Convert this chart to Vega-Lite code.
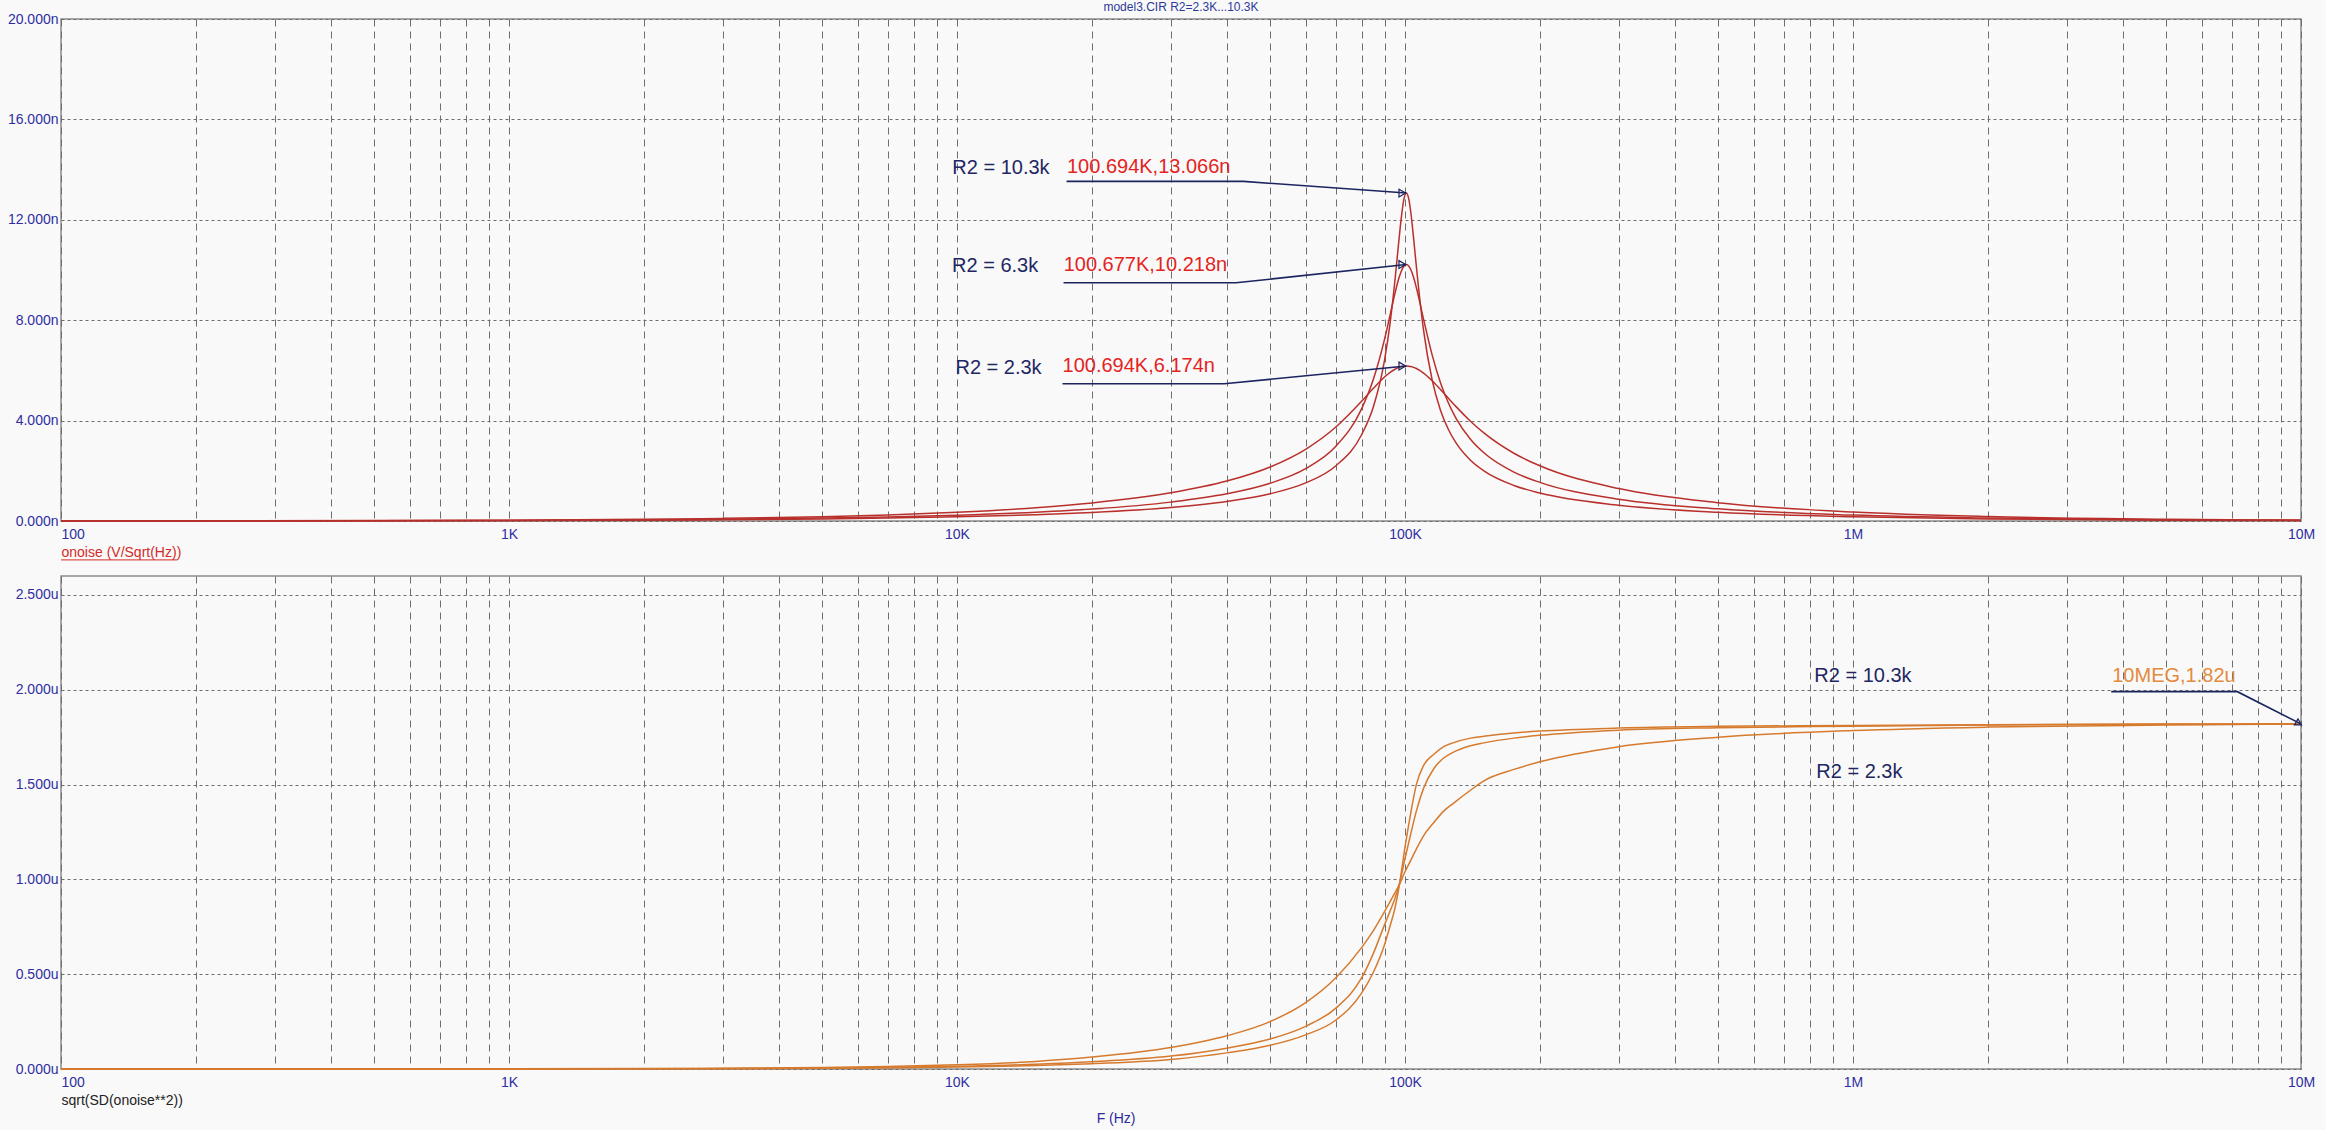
{
  "$schema": "https://vega.github.io/schema/vega-lite/v6.json",
  "background": "#f9f9f9",
  "padding": {"left": 6, "top": 0, "right": 10, "bottom": 4},
  "bounds": "flush",
  "spacing": 55,
  "title": {
    "text": "F (Hz)", "orient": "bottom", "anchor": "start", "dx": 1090, "offset": 4,
    "fontSize": 14, "fontWeight": "normal", "font": "Liberation Sans", "color": "#2b2b9e"
  },
  "config": {
    "view": {"stroke": "#8c8c8c", "strokeWidth": 1.5},
    "font": "Liberation Sans",
    "axis": {
      "domain": false, "ticks": false,
      "labelFont": "Liberation Sans", "labelFontSize": 14, "labelColor": "#2e2ea2",
      "labelOverlap": false, "labelFlush": false, "labelBound": false,
      "gridColor": "#6e6e6e", "gridWidth": 1, "gridOpacity": 1,
      "titleFont": "Liberation Sans", "titleFontWeight": "normal", "titleFontSize": 14
    },
    "axisX": {"gridDash": [7, 5], "labelPadding": 6},
    "axisY": {"gridDash": [3, 3], "labelPadding": 3}
  },
  "datasets": {
    "noise": [
      {"f": 100, "lo": 0.0035, "mid": 0.0023, "hi": 0.0016},
      {"f": 200, "lo": 0.0069, "mid": 0.0046, "hi": 0.0033},
      {"f": 500, "lo": 0.0173, "mid": 0.0115, "hi": 0.0082},
      {"f": 1000, "lo": 0.0346, "mid": 0.0229, "hi": 0.0164},
      {"f": 2000, "lo": 0.0693, "mid": 0.0458, "hi": 0.0329},
      {"f": 3000, "lo": 0.104, "mid": 0.0688, "hi": 0.0493},
      {"f": 5000, "lo": 0.174, "mid": 0.115, "hi": 0.0823},
      {"f": 7000, "lo": 0.243, "mid": 0.161, "hi": 0.1155},
      {"f": 10000, "lo": 0.349, "mid": 0.231, "hi": 0.166},
      {"f": 15000, "lo": 0.529, "mid": 0.351, "hi": 0.252},
      {"f": 20000, "lo": 0.716, "mid": 0.476, "hi": 0.342},
      {"f": 30000, "lo": 1.121, "mid": 0.752, "hi": 0.54},
      {"f": 40000, "lo": 1.59, "mid": 1.082, "hi": 0.779},
      {"f": 50000, "lo": 2.153, "mid": 1.503, "hi": 1.086},
      {"f": 60000, "lo": 2.857, "mid": 2.087, "hi": 1.518},
      {"f": 70000, "lo": 3.735, "mid": 2.969, "hi": 2.193},
      {"f": 80000, "lo": 4.769, "mid": 4.468, "hi": 3.436},
      {"f": 85000, "lo": 5.287, "mid": 5.645, "hi": 4.551},
      {"f": 90000, "lo": 5.735, "mid": 7.234, "hi": 6.402},
      {"f": 92500, "lo": 5.912, "mid": 8.16, "hi": 7.8},
      {"f": 95000, "lo": 6.046, "mid": 9.079, "hi": 9.61},
      {"f": 97000, "lo": 6.121, "mid": 9.699, "hi": 11.25},
      {"f": 98000, "lo": 6.146, "mid": 9.934, "hi": 12.0},
      {"f": 99300, "lo": 6.166, "mid": 10.14, "hi": 12.76},
      {"f": 100700, "lo": 6.174, "mid": 10.218, "hi": 13.066},
      {"f": 102000, "lo": 6.168, "mid": 10.15, "hi": 12.81},
      {"f": 103000, "lo": 6.154, "mid": 10.02, "hi": 12.31},
      {"f": 104500, "lo": 6.121, "mid": 9.708, "hi": 11.28},
      {"f": 106000, "lo": 6.074, "mid": 9.302, "hi": 10.15},
      {"f": 110000, "lo": 5.892, "mid": 8.042, "hi": 7.603},
      {"f": 115000, "lo": 5.585, "mid": 6.607, "hi": 5.609},
      {"f": 120000, "lo": 5.238, "mid": 5.51, "hi": 4.416},
      {"f": 125000, "lo": 4.889, "mid": 4.701, "hi": 3.645},
      {"f": 130000, "lo": 4.557, "mid": 4.093, "hi": 3.11},
      {"f": 140000, "lo": 3.977, "mid": 3.258, "hi": 2.422},
      {"f": 150000, "lo": 3.508, "mid": 2.717, "hi": 1.998},
      {"f": 175000, "lo": 2.699, "mid": 1.948, "hi": 1.415},
      {"f": 200000, "lo": 2.199, "mid": 1.538, "hi": 1.112},
      {"f": 300000, "lo": 1.291, "mid": 0.87, "hi": 0.625},
      {"f": 500000, "lo": 0.727, "mid": 0.484, "hi": 0.347},
      {"f": 1000000, "lo": 0.355, "mid": 0.235, "hi": 0.168},
      {"f": 2000000, "lo": 0.176, "mid": 0.116, "hi": 0.0835},
      {"f": 5000000, "lo": 0.0703, "mid": 0.0465, "hi": 0.0333},
      {"f": 10000000, "lo": 0.0351, "mid": 0.0232, "hi": 0.0167}
    ],
    "total": [
      {"f": 100, "lo": 0.00002, "mid": 0.00001, "hi": 0.00001},
      {"f": 200, "lo": 0.00006, "mid": 0.00004, "hi": 0.00003},
      {"f": 500, "lo": 0.0002, "mid": 0.00015, "hi": 0.0001},
      {"f": 1000, "lo": 0.0007, "mid": 0.0004, "hi": 0.0003},
      {"f": 2000, "lo": 0.002, "mid": 0.0012, "hi": 0.0009},
      {"f": 3000, "lo": 0.0037, "mid": 0.0023, "hi": 0.0017},
      {"f": 5000, "lo": 0.0078, "mid": 0.005, "hi": 0.0037},
      {"f": 7000, "lo": 0.013, "mid": 0.0085, "hi": 0.0062},
      {"f": 10000, "lo": 0.022, "mid": 0.014, "hi": 0.01},
      {"f": 15000, "lo": 0.04, "mid": 0.025, "hi": 0.018},
      {"f": 20000, "lo": 0.063, "mid": 0.038, "hi": 0.028},
      {"f": 30000, "lo": 0.113, "mid": 0.068, "hi": 0.05},
      {"f": 40000, "lo": 0.175, "mid": 0.11, "hi": 0.085},
      {"f": 50000, "lo": 0.25, "mid": 0.158, "hi": 0.125},
      {"f": 60000, "lo": 0.35, "mid": 0.225, "hi": 0.18},
      {"f": 70000, "lo": 0.48, "mid": 0.32, "hi": 0.257},
      {"f": 80000, "lo": 0.64, "mid": 0.48, "hi": 0.4},
      {"f": 85000, "lo": 0.73, "mid": 0.61, "hi": 0.51},
      {"f": 90000, "lo": 0.83, "mid": 0.76, "hi": 0.655},
      {"f": 92500, "lo": 0.88, "mid": 0.83, "hi": 0.75},
      {"f": 95000, "lo": 0.93, "mid": 0.9, "hi": 0.85},
      {"f": 97000, "lo": 0.97, "mid": 0.97, "hi": 0.96},
      {"f": 100000, "lo": 1.04, "mid": 1.11, "hi": 1.17},
      {"f": 103000, "lo": 1.1, "mid": 1.24, "hi": 1.35},
      {"f": 106000, "lo": 1.16, "mid": 1.36, "hi": 1.5},
      {"f": 110000, "lo": 1.23, "mid": 1.48, "hi": 1.6},
      {"f": 116000, "lo": 1.3, "mid": 1.585, "hi": 1.66},
      {"f": 122000, "lo": 1.36, "mid": 1.64, "hi": 1.7},
      {"f": 128000, "lo": 1.4, "mid": 1.67, "hi": 1.72},
      {"f": 140000, "lo": 1.47, "mid": 1.705, "hi": 1.745},
      {"f": 150000, "lo": 1.52, "mid": 1.72, "hi": 1.755},
      {"f": 175000, "lo": 1.58, "mid": 1.745, "hi": 1.772},
      {"f": 200000, "lo": 1.62, "mid": 1.76, "hi": 1.782},
      {"f": 300000, "lo": 1.7, "mid": 1.787, "hi": 1.798},
      {"f": 500000, "lo": 1.75, "mid": 1.8, "hi": 1.807},
      {"f": 1000000, "lo": 1.785, "mid": 1.808, "hi": 1.812},
      {"f": 2000000, "lo": 1.803, "mid": 1.814, "hi": 1.816},
      {"f": 5000000, "lo": 1.814, "mid": 1.818, "hi": 1.819},
      {"f": 10000000, "lo": 1.82, "mid": 1.82, "hi": 1.82}
    ],
    "topCallouts": [
      {"id": "hi", "ord": 1, "f": 17560, "v": 13.53},
      {"id": "hi", "ord": 2, "f": 43620, "v": 13.53},
      {"id": "hi", "ord": 3, "f": 100694, "v": 13.066},
      {"id": "mid", "ord": 1, "f": 17290, "v": 9.49},
      {"id": "mid", "ord": 2, "f": 41960, "v": 9.49},
      {"id": "mid", "ord": 3, "f": 100677, "v": 10.218},
      {"id": "lo", "ord": 1, "f": 17200, "v": 5.47},
      {"id": "lo", "ord": 2, "f": 39500, "v": 5.47},
      {"id": "lo", "ord": 3, "f": 100694, "v": 6.174}
    ],
    "topTips": [
      {"id": "hi", "f": 100694, "v": 13.066},
      {"id": "mid", "f": 100677, "v": 10.218},
      {"id": "lo", "f": 100694, "v": 6.174}
    ],
    "topText": [
      {"kind": "r2", "f": 9760, "v": 14.06, "label": "R2 = 10.3k"},
      {"kind": "readout", "f": 17600, "v": 14.12, "label": "100.694K,13.066n"},
      {"kind": "r2", "f": 9750, "v": 10.16, "label": "R2 = 6.3k"},
      {"kind": "readout", "f": 17300, "v": 10.18, "label": "100.677K,10.218n"},
      {"kind": "r2", "f": 9920, "v": 6.11, "label": "R2 = 2.3k"},
      {"kind": "readout", "f": 17200, "v": 6.16, "label": "100.694K,6.174n"}
    ],
    "botCallout": [
      {"ord": 1, "f": 3770000, "v": 1.99},
      {"ord": 2, "f": 7210000, "v": 1.99},
      {"ord": 3, "f": 10000000, "v": 1.82}
    ],
    "botTip": [
      {"f": 10000000, "v": 1.82}
    ],
    "botText": [
      {"kind": "r2", "f": 819500, "v": 2.071, "label": "R2 = 10.3k"},
      {"kind": "r2", "f": 828000, "v": 1.567, "label": "R2 = 2.3k"},
      {"kind": "final", "f": 3790000, "v": 2.071, "label": "10MEG,1.82u"}
    ],
    "underline": [
      {"f": 100, "f2": 182, "v": -1.55}
    ]
  },
  "vconcat": [
    {
      "width": 2240,
      "height": 502,
      "title": {
        "text": "model3.CIR R2=2.3K...10.3K", "frame": "group", "anchor": "middle",
        "offset": -2, "fontSize": 12, "fontWeight": "normal", "color": "#2b3a9a"
      },
      "layer": [
        {
          "data": {"name": "noise"},
          "transform": [{"fold": ["lo", "mid", "hi"], "as": ["r2", "v"]}],
          "mark": {"type": "line", "color": "#b8302c", "strokeWidth": 1.5, "interpolate": "monotone"},
          "encoding": {
            "x": {
              "field": "f", "type": "quantitative",
              "scale": {"type": "log", "domain": [100, 10000000]},
              "axis": {
                "values": [100, 200, 300, 400, 500, 600, 700, 800, 900, 1000, 2000, 3000, 4000, 5000, 6000, 7000, 8000, 9000, 10000, 20000, 30000, 40000, 50000, 60000, 70000, 80000, 90000, 100000, 200000, 300000, 400000, 500000, 600000, 700000, 800000, 900000, 1000000, 2000000, 3000000, 4000000, 5000000, 6000000, 7000000, 8000000, 9000000, 10000000],
                "labelExpr": "datum.value == 100 ? '100' : datum.value == 1000 ? '1K' : datum.value == 10000 ? '10K' : datum.value == 100000 ? '100K' : datum.value == 1000000 ? '1M' : datum.value == 10000000 ? '10M' : ''",
                "labelAlign": {"condition": {"test": "datum.value == 100", "value": "left"}, "value": "center"},
                "title": "onoise (V/Sqrt(Hz))", "titleAnchor": "start", "titleColor": "#d42a2a", "titlePadding": 4
              }
            },
            "y": {
              "field": "v", "type": "quantitative",
              "scale": {"domain": [0, 20]},
              "axis": {
                "values": [0, 4, 8, 12, 16, 20],
                "labelExpr": "format(datum.value, '.3f') + 'n'",
                "title": null
              }
            },
            "detail": {"field": "r2"}
          }
        },
        {
          "data": {"name": "underline"},
          "mark": {"type": "rule", "color": "#d42a2a", "strokeWidth": 1},
          "encoding": {
            "x": {"field": "f", "type": "quantitative"},
            "x2": {"field": "f2"},
            "y": {"field": "v", "type": "quantitative"}
          }
        },
        {
          "data": {"name": "topCallouts"},
          "mark": {"type": "line", "color": "#1c2460", "strokeWidth": 1.6},
          "encoding": {
            "x": {"field": "f", "type": "quantitative"},
            "y": {"field": "v", "type": "quantitative"},
            "detail": {"field": "id"},
            "order": {"field": "ord"}
          }
        },
        {
          "data": {"name": "topTips"},
          "mark": {"type": "point", "shape": "triangle-right", "filled": false, "size": 60, "color": "#1c2460", "strokeWidth": 1.2, "opacity": 1, "xOffset": -4},
          "encoding": {
            "x": {"field": "f", "type": "quantitative"},
            "y": {"field": "v", "type": "quantitative"}
          }
        },
        {
          "data": {"name": "topText"},
          "mark": {"type": "text", "align": "left", "baseline": "middle", "fontSize": 20, "font": "Liberation Sans"},
          "encoding": {
            "x": {"field": "f", "type": "quantitative"},
            "y": {"field": "v", "type": "quantitative"},
            "text": {"field": "label"},
            "color": {
              "field": "kind", "type": "nominal", "legend": null,
              "scale": {"domain": ["r2", "readout", "final"], "range": ["#1e2763", "#e3241f", "#e38a3d"]}
            }
          }
        }
      ]
    },
    {
      "width": 2240,
      "height": 493,
      "layer": [
        {
          "data": {"name": "total"},
          "transform": [{"fold": ["lo", "mid", "hi"], "as": ["r2", "v"]}],
          "mark": {"type": "line", "color": "#d67a2e", "strokeWidth": 1.5, "interpolate": "monotone"},
          "encoding": {
            "x": {
              "field": "f", "type": "quantitative",
              "scale": {"type": "log", "domain": [100, 10000000]},
              "axis": {
                "values": [100, 200, 300, 400, 500, 600, 700, 800, 900, 1000, 2000, 3000, 4000, 5000, 6000, 7000, 8000, 9000, 10000, 20000, 30000, 40000, 50000, 60000, 70000, 80000, 90000, 100000, 200000, 300000, 400000, 500000, 600000, 700000, 800000, 900000, 1000000, 2000000, 3000000, 4000000, 5000000, 6000000, 7000000, 8000000, 9000000, 10000000],
                "labelExpr": "datum.value == 100 ? '100' : datum.value == 1000 ? '1K' : datum.value == 10000 ? '10K' : datum.value == 100000 ? '100K' : datum.value == 1000000 ? '1M' : datum.value == 10000000 ? '10M' : ''",
                "labelAlign": {"condition": {"test": "datum.value == 100", "value": "left"}, "value": "center"},
                "title": "sqrt(SD(onoise**2))", "titleAnchor": "start", "titleColor": "#222222", "titlePadding": 4
              }
            },
            "y": {
              "field": "v", "type": "quantitative",
              "scale": {"domain": [0, 2.5]},
              "axis": {
                "values": [0, 0.5, 1, 1.5, 2, 2.5],
                "labelExpr": "format(datum.value, '.3f') + 'u'",
                "title": null
              }
            },
            "detail": {"field": "r2"}
          }
        },
        {
          "data": {"name": "botCallout"},
          "mark": {"type": "line", "color": "#1c2460", "strokeWidth": 1.6},
          "encoding": {
            "x": {"field": "f", "type": "quantitative"},
            "y": {"field": "v", "type": "quantitative"},
            "order": {"field": "ord"}
          }
        },
        {
          "data": {"name": "botTip"},
          "mark": {"type": "point", "shape": "triangle-up", "filled": false, "size": 50, "color": "#1c2460", "strokeWidth": 1.2, "opacity": 1, "xOffset": -3, "yOffset": -2},
          "encoding": {
            "x": {"field": "f", "type": "quantitative"},
            "y": {"field": "v", "type": "quantitative"}
          }
        },
        {
          "data": {"name": "botText"},
          "mark": {"type": "text", "align": "left", "baseline": "middle", "fontSize": 20, "font": "Liberation Sans"},
          "encoding": {
            "x": {"field": "f", "type": "quantitative"},
            "y": {"field": "v", "type": "quantitative"},
            "text": {"field": "label"},
            "color": {
              "field": "kind", "type": "nominal", "legend": null,
              "scale": {"domain": ["r2", "readout", "final"], "range": ["#1e2763", "#e3241f", "#e38a3d"]}
            }
          }
        }
      ]
    }
  ]
}
